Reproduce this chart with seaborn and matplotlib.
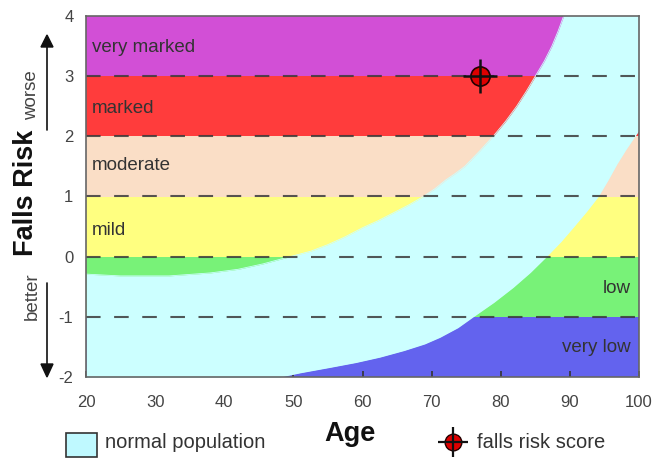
import matplotlib
matplotlib.use("Agg")
import matplotlib.pyplot as plt
from matplotlib.patches import Rectangle
from matplotlib.lines import Line2D
import seaborn as sns
import pandas as pd
import numpy as np

# ---- data ----
band_names = ["very low", "low", "mild", "moderate", "marked", "very marked"]
band_lower = [-2, -1, 0, 1, 2, 3]
band_upper = [-1, 0, 1, 2, 3, 4]
band_colors = ["#6363ee", "#78f278", "#ffff80", "#fadec6", "#ff3c3c", "#d24fd6"]

upper_age = [20, 25, 32, 38, 42, 45.6, 49.5, 52.5, 55, 57.5, 60, 62.3, 64.5, 66.7, 68.8,
             70.5, 72, 73.4, 74.8, 76.9, 78.9, 80.7, 82.3, 83.7, 85.0, 86.3, 87.4, 88.3, 89.1]
upper_risk = [-0.29, -0.32, -0.32, -0.27, -0.21, -0.12, 0.0, 0.09, 0.2, 0.33, 0.48, 0.6, 0.73, 0.86, 1.0,
              1.13, 1.27, 1.38, 1.5, 1.75, 2.0, 2.25, 2.5, 2.75, 3.0, 3.25, 3.5, 3.75, 4.0]

lower_age = [48.1, 51, 55.3, 59, 62.5, 66, 69, 71.2, 73.8, 76.0, 79, 81.8, 84.3, 86.6,
             88.7, 90.5, 92.4, 94.1, 95.5, 96.8, 98.1, 99.4, 100]
lower_risk = [-2.0, -1.93, -1.84, -1.76, -1.67, -1.56, -1.45, -1.34, -1.18, -1.0, -0.76, -0.51, -0.26, 0.0,
              0.25, 0.49, 0.75, 1.0, 1.27, 1.54, 1.78, 2.0, 2.1]

score_age = [77]
score_risk = [3]

xticks = [20, 30, 40, 50, 60, 70, 80, 90, 100]
yticks = [-2, -1, 0, 1, 2, 3, 4]
dash_levels = [-1, 0, 1, 2, 3]

sns.set_theme(style="white")
plt.rcParams["font.family"] = ["Liberation Sans", "DejaVu Sans"]
plt.rcParams["axes.unicode_minus"] = False

W, H = 652, 458
fig = plt.figure(figsize=(W / 100, H / 100), dpi=100)
ax = fig.add_axes([86 / W, 1 - 377 / H, (639 - 86) / W, (377 - 16) / H])
ax.set_xlim(20, 100)
ax.set_ylim(-2, 4)

for lo, hi, c in zip(band_lower, band_upper, band_colors):
    ax.axhspan(lo, hi, color=c, lw=0, zorder=0)

# normal population region between the two curves
up = pd.DataFrame({"age": upper_age, "risk": upper_risk})
low = pd.DataFrame({"age": lower_age, "risk": lower_risk})
xs = np.linspace(20, 100, 1600)
up_i = np.interp(xs, up["age"], up["risk"], right=4.5)
lo_i = np.interp(xs, low["age"], low["risk"], left=-2.5)
cyan = "#ccffff"
ax.fill_between(xs, lo_i, up_i, color=cyan, lw=0, zorder=1)
sns.lineplot(data=up, x="age", y="risk", ax=ax, color=cyan, lw=0.6, zorder=1)
sns.lineplot(data=low, x="age", y="risk", ax=ax, color=cyan, lw=0.3, zorder=1)

for y in dash_levels:
    ax.axhline(y, color="#3a3a3a", lw=1.5, dashes=(7, 6.5), zorder=2, alpha=0.85)

# band labels
txt_col = "#333333"
left_labels = [("very marked", 3.48), ("marked", 2.47), ("moderate", 1.51), ("mild", 0.43)]
for t, y in left_labels:
    ax.text(20.8, y, t, ha="left", va="center", fontsize=13.5, color=txt_col, zorder=3)
for t, y in [("low", -0.53), ("very low", -1.51)]:
    ax.text(98.8, y, t, ha="right", va="center", fontsize=13.5, color=txt_col, zorder=3)

# falls risk score marker
sc = pd.DataFrame({"age": score_age, "risk": score_risk})
sns.scatterplot(data=sc, x="age", y="risk", ax=ax, s=190, color="#dd0000",
                edgecolor="#220000", linewidth=1.2, zorder=5, legend=False)
ax.plot(score_age, score_risk, marker="+", ms=25, mew=1.8, color="#111111", zorder=6, ls="none")

ax.set_xticks(xticks)
ax.set_yticks(yticks)
ax.tick_params(axis="x", direction="in", length=4, width=1.2, color="#333333",
               labelsize=12, labelcolor="#444444", pad=13, bottom=True)
ax.tick_params(axis="y", length=0, labelsize=12, labelcolor="#444444", pad=9, left=False)
ax.set_xlabel("")
ax.set_ylabel("")
for s in ax.spines.values():
    s.set_color("#666666")
    s.set_linewidth(1.2)
    s.set_zorder(7)

# axis titles
fig.text(350 / W, 1 - 434 / H, "Age", ha="center", va="center", fontsize=19.5, fontweight="bold", color="#111111")
fig.text(26 / W, 1 - 193 / H, "Falls Risk", ha="center", va="center", rotation=90,
         fontsize=19.5, fontweight="bold", color="#111111")
fig.text(32 / W, 1 - 95 / H, "worse", ha="center", va="center", rotation=90, fontsize=13.5, color="#444444")
fig.text(32 / W, 1 - 296 / H, "better", ha="center", va="center", rotation=90, fontsize=13.5, color="#444444")

# arrows
fig.add_artist(Line2D([47 / W, 47 / W], [1 - 130 / H, 1 - 45 / H], color="#111111", lw=1.2, transform=fig.transFigure))
fig.add_artist(plt.Polygon([[41 / W, 1 - 47 / H], [53 / W, 1 - 47 / H], [47 / W, 1 - 35 / H]],
                           closed=True, color="#111111", transform=fig.transFigure))
fig.add_artist(Line2D([47 / W, 47 / W], [1 - 283 / H, 1 - 366 / H], color="#111111", lw=1.2, transform=fig.transFigure))
fig.add_artist(plt.Polygon([[41 / W, 1 - 364 / H], [53 / W, 1 - 364 / H], [47 / W, 1 - 377 / H]],
                           closed=True, color="#111111", transform=fig.transFigure))

# legend
fig.add_artist(Rectangle((66 / W, 1 - 457 / H), 31 / W, 24 / H, facecolor="#bff9ff",
                         edgecolor="#333333", lw=1.2, transform=fig.transFigure))
fig.text(105 / W, 1 - 443 / H, "normal population", ha="left", va="center", fontsize=14.5, color="#333333")
fig.add_artist(Line2D([453 / W], [1 - 442 / H], marker="o", ms=12, color="#dd0000", mec="#220000",
                      mew=1.0, transform=fig.transFigure))
fig.add_artist(Line2D([453 / W], [1 - 442 / H], marker="+", ms=22, mew=1.6, color="#111111",
                      transform=fig.transFigure))
fig.text(477 / W, 1 - 443 / H, "falls risk score", ha="left", va="center", fontsize=14.5, color="#333333")

fig.savefig("out.png", dpi=100)
